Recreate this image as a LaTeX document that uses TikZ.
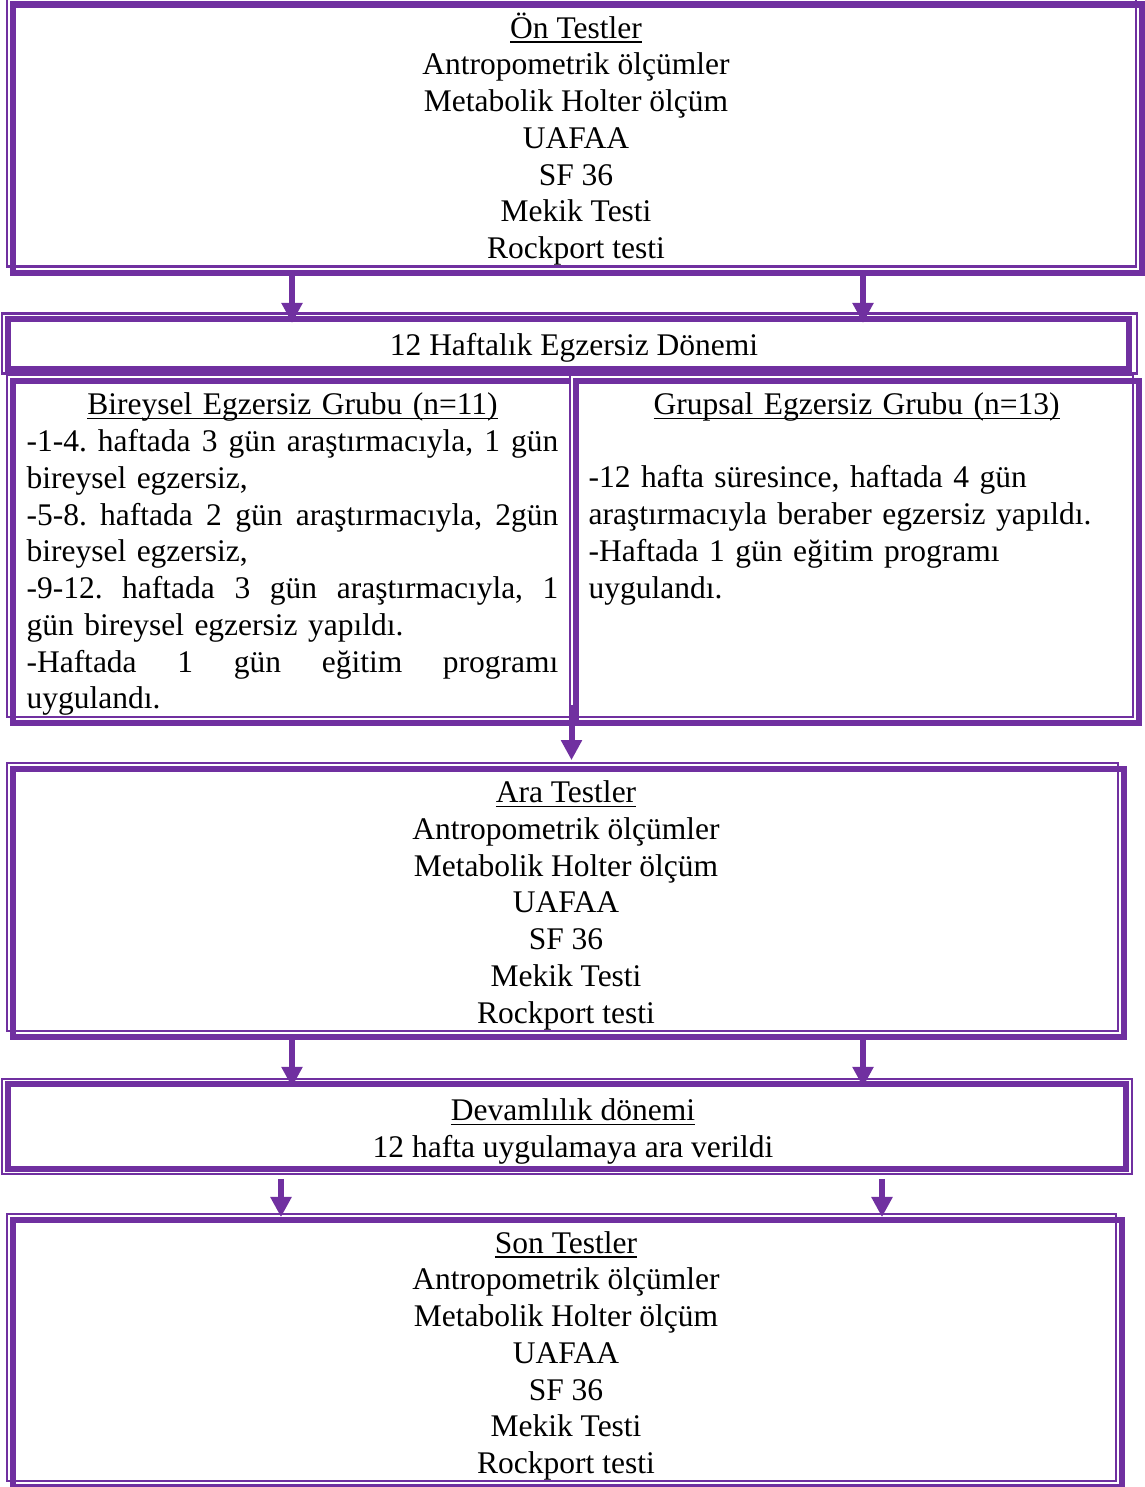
\documentclass[tikz,border=0pt]{standalone}
\usepackage{fontspec}
\setmainfont{Liberation Serif}
\usetikzlibrary{arrows.meta,fit}
\definecolor{pur}{HTML}{7030A0}
\newlength\bw
\setlength\bw{198.4pt}
\newlength\gw
\setlength\gw{200pt}
\newcommand\jl[1]{\leavevmode\hbox to\bw{\spaceskip=.25em plus 1fil minus .1em\xspaceskip=.25em plus 1fil minus .1em\relax #1}}
\newcommand\ulin[1]{\setbox0\hbox{#1}\leavevmode\rlap{\rule[-1.7pt]{\wd0}{0.55pt}}\box0}
\begin{document}
\begin{tikzpicture}[x=0.373pt,y=-0.373pt,
 thickbox/.style={draw=pur,line width=2.24pt,inner sep=0pt,outer sep=0pt},
 thickln/.style={draw=pur,line width=2.24pt},
 thinln/.style={draw=pur,line width=0.75pt},
 arr/.style={draw=pur,line width=2.24pt,-{Triangle[width=7.5pt,length=7.5pt]}},
 txt/.style={font=\fontsize{11.75pt}{13.7pt}\selectfont\frenchspacing,inner sep=0pt,align=center}]
\useasboundingbox (0,0) rectangle (1144,1487);
% boxes (thick lines)
\node[thickbox,fit={(13,4.5) (1142,272.5)}] (b1) {};
\node[thickbox,fit={(8,319) (1129,368.5)}] (b2) {};
\node[thickbox,fit={(13,381) (576,722.5)}] (b3) {};
\node[inner sep=0pt,outer sep=0pt,fit={(576,381) (1138.5,722.5)}] (b4) {};
\node[thickbox,fit={(13,769) (1124,1036.5)}] (b5) {};
\node[thickbox,fit={(8,1084) (1126,1169)}] (b6) {};
\node[thickbox,fit={(13,1219.5) (1122,1487)}] (b7) {};
% thin companion lines
\foreach \b in {b1,b3,b5,b7}{
  \draw[thinln] ([shift={(-6,-6)}]\b.north west) rectangle ([shift={(-6,-6)}]\b.south east);
}
\draw[thinln,fill=white] ([shift={(-6,-6)}]b4.north west) rectangle ([shift={(-6,-6)}]b4.south east);
\draw[thickln] (b4.north west) rectangle (b4.south east);
\draw[thinln] ([shift={(-6,-5.5)}]b2.north west) rectangle ([shift={(8,5)}]b2.south east);
\draw[thinln] ([shift={(-6,-5)}]b6.north west) rectangle ([shift={(6,5)}]b6.south east);
% texts
\node[txt] (t1) at (576,141) {\strut\ulin{Ön Testler}\\Antropometrik ölçümler\\Metabolik Holter ölçüm\\UAFAA\\SF 36\\Mekik Testi\\Rockport testi\strut};
\node[txt] (t2) at (574,348) {\strut 12 Haftalık Egzersiz Dönemi\strut};
\node[txt,text width=\bw,align=left,anchor=west] (t3) at (26,554.5) {\strut\makebox[\bw][c]{\ulin{Bireysel Egzersiz Grubu (n=11)}}\\
\jl{-1-4. haftada 3 gün araştırmacıyla, 1 gün}\\
bireysel egzersiz,\\
\jl{-5-8. haftada 2 gün araştırmacıyla, 2gün}\\
bireysel egzersiz,\\
\jl{-9-12. haftada 3 gün araştırmacıyla, 1}\\
gün bireysel egzersiz yapıldı.\\
\jl{-Haftada 1 gün eğitim programı}\\
uygulandı.\strut};
\node[txt,text width=\gw,align=left,anchor=west] (t4) at (588,499) {\strut\makebox[\gw][c]{\ulin{Grupsal Egzersiz Grubu (n=13)}}\\
\strut\\
-12 hafta süresince, haftada 4 gün\\
araştırmacıyla beraber egzersiz yapıldı.\\
-Haftada 1 gün eğitim programı\\
uygulandı.\strut};
\node[txt] (t5) at (566,905.5) {\strut\ulin{Ara Testler}\\Antropometrik ölçümler\\Metabolik Holter ölçüm\\UAFAA\\SF 36\\Mekik Testi\\Rockport testi\strut};
\node[txt] (t6) at (573,1131.5) {\strut\ulin{Devamlılık dönemi}\\12 hafta uygulamaya ara verildi\strut};
\node[txt] (t7) at (566,1356) {\strut\ulin{Son Testler}\\Antropometrik ölçümler\\Metabolik Holter ölçüm\\UAFAA\\SF 36\\Mekik Testi\\Rockport testi\strut};
% arrow columns
\coordinate (xl) at (292,0);
\coordinate (xr) at (863,0);
\coordinate (xm) at (571.5,705);
\coordinate (xl2) at (281,0);
\coordinate (xr2) at (882,0);
\draw[arr,shorten >=-1.5pt] (xl |- b1.south) -- (xl |- b2.north);
\draw[arr,shorten >=-1.5pt] (xr |- b1.south) -- (xr |- b2.north);
\draw[arr,shorten >=3.3pt] (xm) -- (xm |- b5.north);
\draw[arr,shorten >=-1.1pt] (xl |- b5.south) -- (xl |- b6.north);
\draw[arr,shorten >=-1.1pt] (xr |- b5.south) -- (xr |- b6.north);
\draw[arr,shorten <=3.7pt,shorten >=0.9pt] (xl2 |- b6.south) -- (xl2 |- b7.north);
\draw[arr,shorten <=3.7pt,shorten >=0.9pt] (xr2 |- b6.south) -- (xr2 |- b7.north);
\end{tikzpicture}
\end{document}
